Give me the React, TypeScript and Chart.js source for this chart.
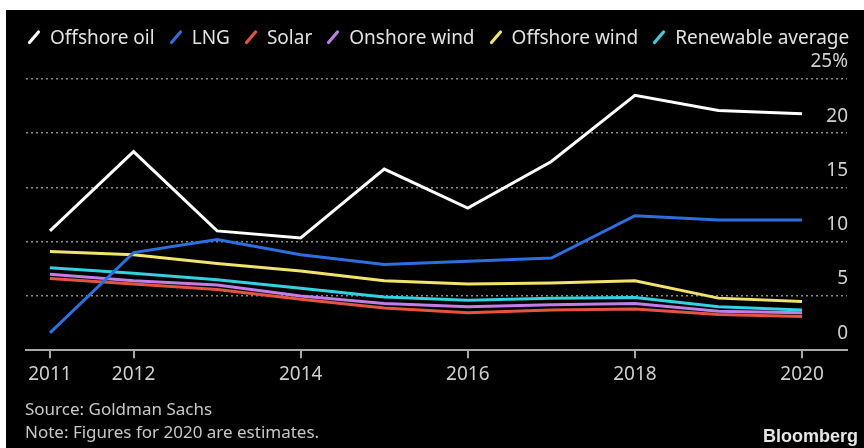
import React, { useEffect, useRef } from "react";
import { Chart, registerables } from "chart.js";

Chart.register(...registerables);

const years = [2011, 2012, 2013, 2014, 2015, 2016, 2017, 2018, 2019, 2020];
const offshoreOil = [11.0, 18.3, 11.0, 10.35, 16.7, 13.1, 17.4, 23.5, 22.1, 21.8];
const lng = [1.6, 9.0, 10.2, 8.8, 7.9, 8.2, 8.5, 12.4, 12.0, 12.0];
const solar = [6.6, 6.1, 5.6, 4.7, 3.9, 3.45, 3.7, 3.8, 3.3, 3.1];
const onshoreWind = [7.0, 6.4, 6.0, 5.0, 4.3, 4.0, 4.2, 4.3, 3.6, 3.45];
const offshoreWind = [9.1, 8.8, 8.0, 7.3, 6.4, 6.1, 6.2, 6.4, 4.8, 4.5];
const renewableAverage = [7.6, 7.1, 6.5, 5.7, 4.9, 4.6, 4.8, 4.85, 4.0, 3.7];

const xTickYears = [2011, 2012, 2014, 2016, 2018, 2020];
const yTickValues = [0, 5, 10, 15, 20, 25];

const seriesNames = ["Offshore oil", "LNG", "Solar", "Onshore wind", "Offshore wind", "Renewable average"];
const seriesColors = ["#ffffff", "#2b6fe0", "#e5543f", "#c07ee8", "#f2e36a", "#32d2e0"];
const seriesValues = [offshoreOil, lng, solar, onshoreWind, offshoreWind, renewableAverage];

const FONT = "'Noto Sans', 'Open Sans', sans-serif";

function Slash({ color }: { color: string }) {
  return (
    <svg width="14" height="16" style={{ display: "block", marginRight: 9 }}>
      <line x1="2.5" y1="13.5" x2="11.5" y2="3" stroke={color} strokeWidth="3.2" strokeLinecap="round" />
    </svg>
  );
}

export default function App() {
  const canvasRef = useRef<HTMLCanvasElement | null>(null);

  useEffect(() => {
    document.body.style.margin = "0";
    const canvas = canvasRef.current;
    if (!canvas) return;
    const chart = new Chart(canvas, {
      type: "line",
      data: {
        datasets: seriesNames.map((name, i) => ({
          label: name,
          data: years.map((yr, j) => ({ x: yr, y: seriesValues[i][j] })),
          borderColor: seriesColors[i],
          backgroundColor: seriesColors[i],
          borderWidth: 3,
          pointRadius: 0,
          tension: 0,
          borderJoinStyle: "miter" as const,
        })),
      },
      options: {
        responsive: false,
        animation: false,
        devicePixelRatio: 1,
        layout: { padding: { left: 20, right: 15, top: 69, bottom: 57 } },
        plugins: { legend: { display: false }, tooltip: { enabled: false } },
        scales: {
          x: {
            type: "linear",
            min: 2010.713,
            max: 2020.538,
            afterBuildTicks: (scale: any) => {
              scale.ticks = xTickYears.map((v) => ({ value: v }));
            },
            ticks: {
              color: "#d0d0d0",
              font: { family: FONT, size: 19 },
              padding: 5,
              maxRotation: 0,
              autoSkip: false,
              callback: (v: any) => String(v),
            },
            grid: {
              drawOnChartArea: false,
              drawTicks: true,
              tickLength: 8,
              color: "#a8a8a8",
              lineWidth: 2,
            },
            border: { display: true, color: "#a8a8a8", width: 2 },
          },
          y: {
            position: "right",
            min: 0,
            max: 25,
            afterBuildTicks: (scale: any) => {
              scale.ticks = yTickValues.map((v) => ({ value: v }));
            },
            ticks: {
              mirror: true,
              padding: 1,
              labelOffset: -17,
              color: "#d0d0d0",
              font: { family: FONT, size: 19 },
              callback: (v: any) => (v === 25 ? "25%" : String(v)),
            },
            grid: {
              drawTicks: false,
              color: (ctx: any) => (ctx.tick && ctx.tick.value === 0 ? "rgba(0,0,0,0)" : "#8a8a8a"),
              lineWidth: 1.5,
            },
            border: { display: false, dash: [2, 3] },
          },
        },
      },
    } as any);
    return () => chart.destroy();
  }, []);

  return (
    <div style={{ position: "relative", width: 864, height: 448, background: "#ffffff", overflow: "hidden" }}>
      <div style={{ position: "absolute", left: 6, top: 10, width: 858, height: 438, background: "#000000" }}>
        <canvas ref={canvasRef} width={858} height={438} style={{ position: "absolute", left: 0, top: 0 }} />
        <div
          style={{
            position: "absolute",
            left: 21,
            top: 14,
            display: "flex",
            alignItems: "center",
            fontFamily: FONT,
            fontSize: 19,
            color: "#e2e2e2",
            whiteSpace: "nowrap",
            lineHeight: "26px",
          }}
        >
          {seriesNames.map((name, i) => (
            <div key={name} style={{ display: "flex", alignItems: "center", marginRight: 14 }}>
              <Slash color={seriesColors[i]} />
              <span>{name}</span>
            </div>
          ))}
        </div>
        <div
          style={{
            position: "absolute",
            left: 19,
            top: 387,
            fontFamily: FONT,
            fontSize: 17,
            lineHeight: "23px",
            color: "#c8c8c8",
            whiteSpace: "nowrap",
          }}
        >
          <div>Source: Goldman Sachs</div>
          <div>Note: Figures for 2020 are estimates.</div>
        </div>
        <div
          style={{
            position: "absolute",
            right: 6,
            top: 415,
            fontFamily: "'Liberation Sans', Arial, sans-serif",
            fontWeight: 700,
            fontSize: 18,
            lineHeight: "22px",
            color: "#e6e6e6",
          }}
        >
          Bloomberg
        </div>
      </div>
    </div>
  );
}
